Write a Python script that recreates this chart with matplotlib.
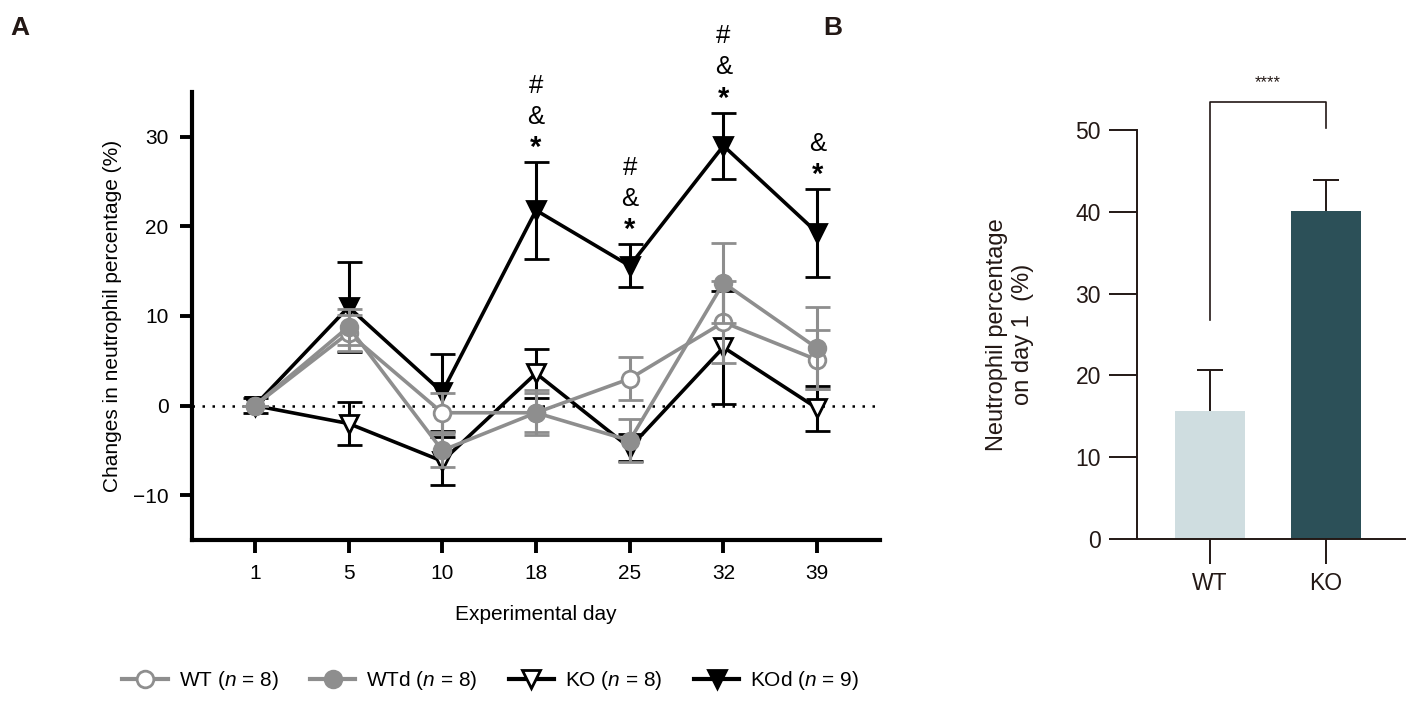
import numpy as np
import matplotlib.pyplot as plt
from matplotlib.lines import Line2D

plt.rcParams['font.family'] = ['Liberation Sans', 'DejaVu Sans']
plt.rcParams['mathtext.fontset'] = 'custom'
plt.rcParams['mathtext.rm'] = 'Liberation Sans'
plt.rcParams['mathtext.it'] = 'Liberation Sans:italic'

# panel A: change in neutrophil percentage per experimental day
days = ['1', '5', '10', '18', '25', '32', '39']
wt_mean = [0, 8.1, -0.8, -0.8, 3.0, 9.3, 5.1]
wt_err = [0, 2.0, 2.2, 2.5, 2.4, 4.6, 3.3]
wtd_mean = [0, 8.8, -5.0, -0.8, -3.9, 13.7, 6.4]
wtd_err = [0, 2.0, 1.8, 2.2, 2.4, 4.5, 4.6]
ko_mean = [0, -2.0, -6.2, 3.6, -4.7, 6.5, -0.3]
ko_err = [0, 2.4, 2.7, 2.7, 1.5, 6.3, 2.5]
kod_mean = [0, 11.0, 1.5, 21.8, 15.6, 29.0, 19.3]
kod_err = [0.8, 5.0, 4.3, 5.4, 2.4, 3.7, 4.9]
sig_marks = ['', '', '', '#&*', '#&*', '#&*', '&*']

# panel B: neutrophil percentage on day 1
groups = ['WT', 'KO']
b_mean = [15.6, 40.1]
b_err = [5.1, 3.8]
b_colors = ['#cfdde0', '#2c5058']

gray = '#8e8e8e'
ink = '#231815'

fig = plt.figure(figsize=(14.18, 7.03), dpi=100)
ax1 = fig.add_axes([0.1354, 0.2319, 0.4852, 0.6372])
ax2 = fig.add_axes([0.8018, 0.2333, 0.189, 0.5817])

x = np.arange(len(days))
ax1.axhline(0, color='black', ls=(0, (1, 3)), lw=1.8, zorder=1)

series = [
    (ko_mean, ko_err, 'v', 'white', 'black', 'KO ($n$ = 8)'),
    (kod_mean, kod_err, 'v', 'black', 'black', 'KOd ($n$ = 9)'),
    (wt_mean, wt_err, 'o', 'white', gray, 'WT ($n$ = 8)'),
    (wtd_mean, wtd_err, 'o', gray, gray, 'WTd ($n$ = 8)'),
]
handles = {}
for i, (m, e, mk, fc, c, lab) in enumerate(series):
    ms = 12 if mk == 'o' else 13
    ax1.errorbar(x, m, yerr=e, color=c, marker=mk, ms=ms,
                 mfc=fc, mec=c, mew=2, lw=2.6, elinewidth=2.2, capsize=9,
                 capthick=2.2, zorder=2 + i)
    handles[lab] = Line2D([], [], color=c, marker=mk, ms=ms, mfc=fc, mec=c,
                          mew=2, lw=3)

for xi, m, e, marks in zip(x, kod_mean, kod_err, sig_marks):
    for j, s in enumerate(marks[::-1]):
        ax1.annotate(s, (xi, m + e), xytext=(0, 10 + 22.5 * j), textcoords='offset points',
                     ha='center', va='center', fontsize=21 if s == '*' else 18.5,
                     fontweight='bold' if s == '*' else 'normal', annotation_clip=False)

ax1.set_xlim(-0.67, 6.67)
ax1.set_ylim(-15, 35)
ax1.set_xticks(x)
ax1.set_xticklabels(days)
ax1.set_yticks([-10, 0, 10, 20, 30])
ax1.set_yticklabels(['\u221210', '0', '10', '20', '30'])
ax1.tick_params(labelsize=15, width=2.8, length=9, pad=8, colors='black')
for sp in ['top', 'right']:
    ax1.spines[sp].set_visible(False)
for sp in ['left', 'bottom']:
    ax1.spines[sp].set_linewidth(3)
ax1.set_xlabel('Experimental day', fontsize=15, labelpad=16)
ax1.set_ylabel('Changes in neutrophil percentage (%)', fontsize=15, labelpad=8)

order = ['WT ($n$ = 8)', 'WTd ($n$ = 8)', 'KO ($n$ = 8)', 'KOd ($n$ = 9)']
fig.legend([handles[k] for k in order], order, loc='center',
           bbox_to_anchor=(0.346, 1 - 681 / 703), ncol=4, frameon=False,
           fontsize=15, handlelength=2.2, columnspacing=1.5, handletextpad=0.5)

# panel B
xb = np.arange(len(groups))
ax2.bar(xb, b_mean, width=0.6, color=b_colors, zorder=2)
tops = np.array(b_mean) + np.array(b_err)
ax2.vlines(xb, b_mean, tops, color=ink, lw=1.4, zorder=3)
ax2.hlines(tops, xb - 0.11, xb + 0.11, color=ink, lw=1.4, zorder=3)
ax2.set_xlim(-0.63, 1.68)
ax2.set_ylim(0, 50)
ax2.set_xticks(xb)
ax2.set_xticklabels(groups)
ax2.set_yticks([0, 10, 20, 30, 40, 50])
ax2.tick_params(axis='y', labelsize=16.5, width=1.4, length=20, pad=6, colors=ink)
ax2.tick_params(axis='x', labelsize=16.5, width=1.4, length=18, pad=6, colors=ink)
for sp in ['top', 'right']:
    ax2.spines[sp].set_visible(False)
for sp in ['left', 'bottom']:
    ax2.spines[sp].set_linewidth(1.4)
    ax2.spines[sp].set_color(ink)
ax2.set_ylabel('Neutrophil percentage\non day 1  (%)', fontsize=17, color=ink, labelpad=30)

# significance bracket
ax2.plot([0, 0, 1, 1], [26.8, 53.4, 53.4, 50.2], color=ink, lw=1.2, clip_on=False)
ax2.text(0.5, 55.8, '****', ha='center', va='center', fontsize=12, color=ink)

fig.text(10 / 1418, 1 - 28 / 703, 'A', fontsize=19, fontweight='bold', ha='left', va='center', color=ink)
fig.text(823 / 1418, 1 - 28 / 703, 'B', fontsize=19, fontweight='bold', ha='left', va='center', color=ink)

fig.savefig('out.png', dpi=100)
